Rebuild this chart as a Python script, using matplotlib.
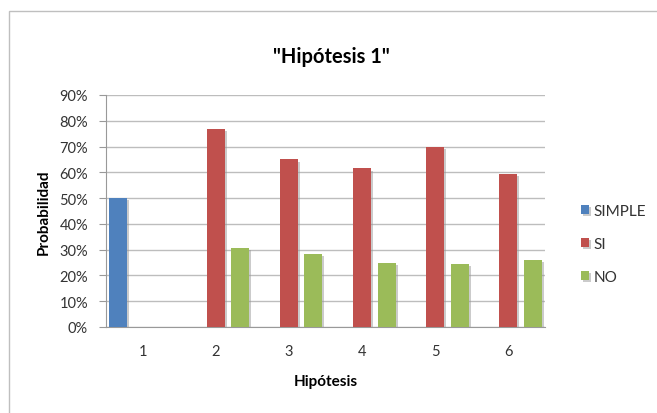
import numpy as np
import matplotlib.pyplot as plt
from matplotlib.patches import Rectangle
from matplotlib import patheffects
from matplotlib.ticker import PercentFormatter

plt.rcParams['font.family'] = ['Lato', 'DejaVu Sans']

hipotesis = ["1", "2", "3", "4", "5", "6"]
simple = [50, 0, 0, 0, 0, 0]
si = [0, 77, 65, 61.5, 70, 59.5]
no = [0, 30.5, 28.5, 25, 24.5, 26]

series = [("SIMPLE", simple, "#4F81BD"), ("SI", si, "#C0504D"), ("NO", no, "#9BBB59")]

fig = plt.figure(figsize=(6.57, 4.14), dpi=100)
fig.patches.append(Rectangle((9 / 657, -0.1), 1.0, 1 - 12 / 414 + 0.1, transform=fig.transFigure,
                             fill=False, edgecolor="#BFBFBF", linewidth=1.0))

ax = fig.add_axes([106 / 657, 1 - 328 / 414, (545 - 106) / 657, (328 - 96) / 414])

x = np.arange(len(hipotesis))
width = 0.245
offset = 0.335
shadow = [patheffects.SimplePatchShadow(offset=(1.5, -1.5), shadow_rgbFace="#999999", alpha=0.5),
          patheffects.Normal()]
for i, (name, vals, color) in enumerate(series):
    bars = ax.bar(x + (i - 1) * offset, vals, width, color=color, label=name, zorder=3)
    for b in bars:
        b.set_path_effects(shadow)

ax.set_xlim(-0.5, len(hipotesis) - 0.5)
ax.set_ylim(0, 90)
ax.set_yticks(np.arange(0, 91, 10))
ax.yaxis.set_major_formatter(PercentFormatter(decimals=0))
ax.set_xticks(x)
ax.set_xticklabels(hipotesis)
ax.grid(axis="y", color="#BDBDBD", linewidth=1.0, zorder=0)

for s in ["top", "right"]:
    ax.spines[s].set_visible(False)
ax.spines["left"].set_color("#999999")
ax.spines["bottom"].set_color("#999999")
ax.tick_params(axis="y", length=5, color="#999999", labelsize=10.5, labelcolor="#333333", pad=8)
ax.tick_params(axis="x", length=0, labelsize=10.5, labelcolor="#333333", pad=12)

ax.set_xlabel("Hipótesis", fontsize=11, fontweight="bold", labelpad=12)
ax.set_ylabel("Probabilidad", fontsize=11, fontweight="bold", labelpad=6)
fig.text(331 / 657, 1 - 57 / 414, '"Hipótesis 1"', fontsize=14.5, fontweight="bold",
         ha="center", va="center")

fig.legend(loc="center left", bbox_to_anchor=(573 / 657, 1 - 245 / 414), frameon=False,
           fontsize=11, labelspacing=1.25, handlelength=0.55, handleheight=0.55,
           handletextpad=0.3, borderpad=0, labelcolor="#333333")

fig.savefig("out.png", dpi=100)
